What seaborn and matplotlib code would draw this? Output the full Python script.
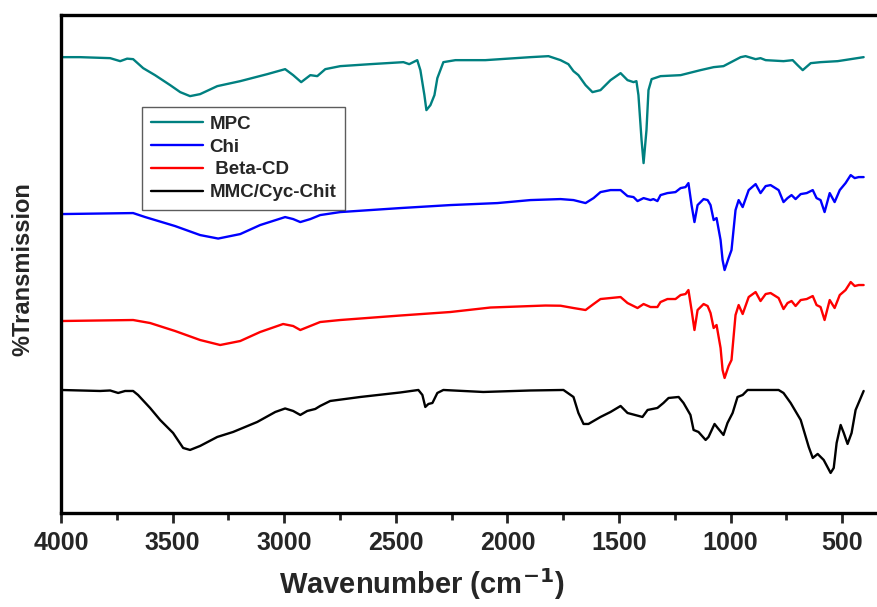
import matplotlib
matplotlib.use("Agg")
import matplotlib.pyplot as plt
from matplotlib.ticker import MultipleLocator
import pandas as pd
import seaborn as sns

# FTIR spectra, values (arbitrary %T units, stacked)
mpc_wn = [4000, 3915, 3780, 3735, 3704, 3677, 3632, 3579, 3511, 3466, 3422, 3377, 3300,
          3197, 3076, 2996, 2960, 2924, 2883, 2852, 2816, 2749, 2614, 2466, 2440, 2404,
          2390, 2372, 2363, 2345, 2327, 2314, 2287, 2233, 2099, 1897, 1816, 1762, 1727,
          1704, 1682, 1650, 1619, 1583, 1538, 1493, 1462, 1435, 1422, 1413, 1399, 1390,
          1377, 1368, 1354, 1314, 1224, 1135, 1076, 1032, 955, 933, 888, 866, 843, 763,
          722, 700, 677, 641, 597, 520, 462, 404]
mpc_t = [456, 456, 455, 452, 454.5, 454, 445, 438, 428, 421, 417, 419, 427,
         432, 439, 444, 438, 431, 438, 437, 444, 447, 449, 451, 449, 453,
         443, 418, 403, 408, 418, 435, 451, 453, 453, 456, 457, 453, 449,
         442, 438, 428, 421, 423, 433, 440, 433, 431, 432, 418, 373, 350,
         383, 423, 434, 437, 438, 443, 446, 447, 456, 457, 454, 455, 453, 452,
         453, 448, 443, 450, 451, 452, 454, 456]

chi_wn = [4000, 3677, 3623, 3489, 3377, 3296, 3197, 3108, 2996, 2960, 2928, 2883, 2839,
          2749, 2480, 2256, 2045, 1897, 1762, 1704, 1650, 1614, 1583, 1538, 1493, 1462,
          1435, 1417, 1390, 1359, 1346, 1328, 1314, 1283, 1247, 1224, 1202, 1189, 1175,
          1162, 1148, 1121, 1103, 1090, 1076, 1063, 1045, 1036, 1027, 1009, 996, 978,
          964, 946, 919, 888, 866, 843, 821, 785, 763, 745, 727, 709, 686, 659, 632,
          615, 597, 579, 556, 534, 511, 485, 462, 444, 426, 404]
chi_t = [299, 300, 296, 287, 278, 274.5, 279, 288, 296, 294, 291, 294, 298,
         301, 305, 308, 310, 313, 314, 313, 310, 315, 321, 323, 323, 317,
         316, 312, 315, 313, 314, 312, 318, 320, 321, 325, 326, 330, 308,
         291, 308, 314, 313, 308, 293, 295, 273, 253, 243, 255, 263, 303,
         313, 306, 323, 329, 320, 327, 328, 323, 311, 315, 318, 314, 319, 320, 323,
         315, 313, 301, 320, 311, 323, 330, 338, 335, 336, 336]

beta_wn = [4000, 3677, 3601, 3489, 3377, 3287, 3197, 3108, 3005, 2960, 2928, 2839, 2749,
           2480, 2256, 2076, 1830, 1762, 1704, 1650, 1614, 1583, 1493, 1462, 1417, 1390,
           1359, 1328, 1314, 1283, 1247, 1224, 1202, 1189, 1175, 1162, 1148, 1121, 1103,
           1090, 1076, 1063, 1045, 1036, 1027, 1009, 996, 978, 964, 946, 919, 888, 866,
           843, 821, 785, 763, 745, 727, 709, 686, 659, 632, 615, 597, 579, 556, 534,
           511, 485, 462, 444, 426, 404]
beta_t = [192, 193, 190, 182, 173, 168, 172, 181, 189, 187, 183, 191, 193,
          197.5, 201, 205.5, 207.5, 207.3, 205, 203, 209, 214, 216, 210, 205, 209,
          206, 206, 211, 214, 214, 218, 219, 223, 203, 183, 203, 209, 207,
          200, 185, 188, 165, 143, 135, 147, 153, 198, 208, 199, 216, 221, 212,
          219, 220, 215, 204, 210, 212, 207, 213, 214, 217, 208, 206, 193, 213, 205,
          218, 223, 231, 227, 228, 228]

mmc_wn = [4000, 3825, 3780, 3744, 3713, 3677, 3655, 3601, 3556, 3498, 3453, 3422, 3377,
          3300, 3229, 3121, 3040, 2996, 2960, 2928, 2897, 2861, 2839, 2794, 2659, 2480,
          2399, 2381, 2368, 2354, 2336, 2314, 2287, 2108, 1897, 1749, 1704, 1682, 1659,
          1637, 1583, 1538, 1493, 1462, 1395, 1372, 1328, 1301, 1278, 1233, 1211, 1180,
          1166, 1144, 1112, 1099, 1072, 1058, 1032, 1014, 991, 969, 946, 924, 785, 763,
          731, 686, 650, 632, 610, 583, 552, 538, 525, 507, 493, 476, 458, 440, 404]
mmc_t = [123, 122, 122.5, 120, 122, 122, 118, 105, 93, 80, 65, 63, 67,
         76, 81, 91, 101, 104.5, 102, 98, 102, 104, 107, 112, 116, 120.5,
         123, 118, 106, 109, 110, 120, 123, 121, 122.5, 123, 116, 100, 89,
         89, 96, 101, 107, 100, 96, 103, 105, 110, 115, 116, 110, 98,
         83, 81, 73, 76, 89, 85, 78, 90, 100, 116, 118, 123, 123, 120,
         110, 93, 66, 55, 59, 53, 40, 45, 70, 88, 80, 69, 80, 103, 122]

labels = ["MPC", "Chi", " Beta-CD", "MMC/Cyc-Chit"]
colors = ["#008080", "#0000ff", "#ff0000", "#000000"]

sns.set_style("white")
plt.rcParams["font.family"] = ["Liberation Sans", "DejaVu Sans"]
plt.rcParams["font.weight"] = "bold"
plt.rcParams["mathtext.default"] = "bf"

fig = plt.figure(figsize=(8.77, 6.07), dpi=100)
ax = fig.add_axes([0.0696, 0.155, 0.934, 0.820])

series = [(mpc_wn, mpc_t), (chi_wn, chi_t), (beta_wn, beta_t), (mmc_wn, mmc_t)]
for (wn, t), lab, col in zip(series, labels, colors):
    df = pd.DataFrame({"wn": wn, "t": t})
    sns.lineplot(data=df, x="wn", y="t", color=col, lw=1.7, label=lab, ax=ax)

ax.set_xlim(4000, 330)
ax.set_ylim(0, 498)
ax.set_yticks([])
ax.xaxis.set_major_locator(MultipleLocator(500))
ax.xaxis.set_minor_locator(MultipleLocator(250))
ax.tick_params(axis="x", which="major", direction="out", length=7, width=2,
               labelsize=18, pad=6, bottom=True)
ax.tick_params(axis="x", which="minor", direction="out", length=5, width=2, bottom=True)
for lbl in ax.get_xticklabels():
    lbl.set_fontweight("bold")

for side in ["left", "bottom", "top", "right"]:
    ax.spines[side].set_linewidth(2.4)
    ax.spines[side].set_color("black")

ax.set_xlabel("Wavenumber (cm$^{-1}$)", fontsize=21, fontweight="bold")
ax.xaxis.set_label_coords(0.44, -0.106)
ax.set_ylabel("%Transmission", fontsize=17, fontweight="bold")
ax.yaxis.set_label_coords(-0.032, 0.49)

leg = ax.legend(loc="upper left", bbox_to_anchor=(0.099, 0.815), borderaxespad=0,
                fontsize=13.5, frameon=True, fancybox=False, handlelength=2.8,
                handletextpad=0.35, labelspacing=0.3, borderpad=0.45)
leg.get_frame().set_edgecolor("#333333")
leg.get_frame().set_linewidth(1.0)
for txt in leg.get_texts():
    txt.set_fontweight("bold")

fig.savefig("out.png", dpi=100)
